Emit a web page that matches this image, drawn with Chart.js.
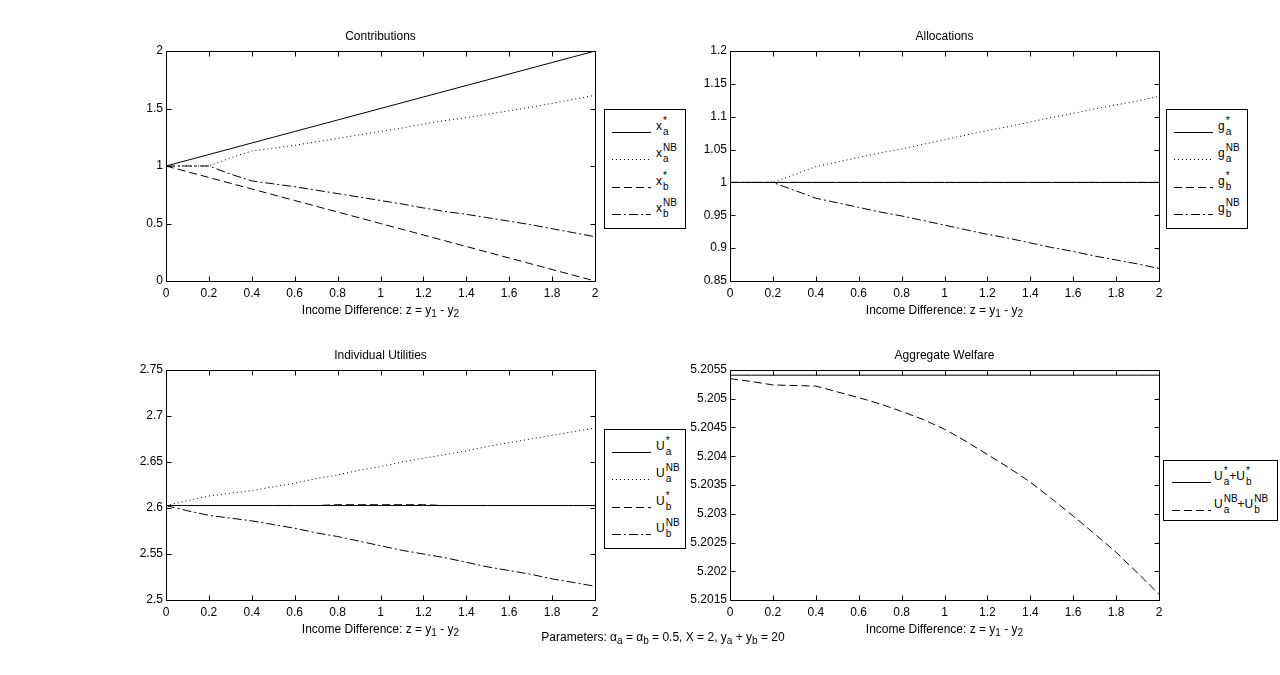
<!DOCTYPE html>
<html>
<head>
<meta charset="utf-8">
<script src="https://cdn.jsdelivr.net/npm/chart.js@4.4.1/dist/chart.umd.min.js"></script>
<style>
  html, body { margin:0; padding:0; background:#fff; }
  body { width:1280px; height:675px; position:relative; overflow:hidden; font-family:"Liberation Sans", Arial, sans-serif; font-size:12px; color:#000; }
  canvas { position:absolute; }
  .ttl, .xt { position:absolute; text-align:center; line-height:14px; white-space:nowrap; }
  .xt sub, .par sub { font-size:10px; line-height:0; vertical-align:-3px; }
  .par { position:absolute; line-height:14px; white-space:nowrap; text-align:center; }
  .leg { position:absolute; border:1px solid #000; background:#fff; box-sizing:border-box; }
  .row { position:absolute; left:0; height:0; }
  .lab { position:absolute; top:-8px; white-space:nowrap; line-height:14px; display:flex; align-items:center; }
  .st { display:inline-flex; flex-direction:column; font-size:10px; line-height:9px; margin-left:1px; }
  .st .up { position:relative; top:-1px; }
  .st .dn { position:relative; top:1px; }
</style>
</head>
<body>
<script>
// ---------- data ----------
const z = [0,0.1,0.2,0.3,0.4,0.5,0.6,0.7,0.8,0.9,1.0,1.1,1.2,1.3,1.4,1.5,1.6,1.7,1.8,1.9,2.0];
const xTicks = [0,0.2,0.4,0.6,0.8,1,1.2,1.4,1.6,1.8,2];
const xTickLabels = ['0','0.2','0.4','0.6','0.8','1','1.2','1.4','1.6','1.8','2'];

// Contributions
const xaStar = [1,1.05,1.1,1.15,1.2,1.25,1.3,1.35,1.4,1.45,1.5,1.55,1.6,1.65,1.7,1.75,1.8,1.85,1.9,1.95,2];
const xaNB   = [1,1,1,1.07,1.13,1.155,1.18,1.21,1.24,1.27,1.3,1.33,1.365,1.395,1.42,1.45,1.48,1.51,1.545,1.58,1.615];
const xbStar = [1,0.95,0.9,0.85,0.8,0.75,0.7,0.65,0.6,0.55,0.5,0.45,0.4,0.35,0.3,0.25,0.2,0.15,0.1,0.05,0];
const xbNB   = [1,1,1,0.93,0.87,0.845,0.82,0.79,0.76,0.73,0.7,0.67,0.635,0.605,0.58,0.55,0.52,0.49,0.455,0.42,0.385];
const y1Ticks = [0,0.5,1,1.5,2];
const y1TickLabels = ['0','0.5','1','1.5','2'];

// Allocations
const gaStar = [1,1,1,1,1,1,1,1,1,1,1,1,1,1,1,1,1,1,1,1,1];
const gaNB   = [1,1,1,1.012,1.024,1.031,1.038,1.045,1.051,1.058,1.065,1.072,1.079,1.085,1.092,1.099,1.105,1.112,1.118,1.124,1.131];
const gbStar = [1,1,1,1,1,1,1,1,1,1,1,1,1,1,1,1,1,1,1,1,1];
const gbNB   = [1,1,1,0.988,0.976,0.969,0.962,0.955,0.949,0.942,0.935,0.928,0.921,0.915,0.908,0.901,0.895,0.888,0.882,0.876,0.869];
const y2Ticks = [0.85,0.9,0.95,1,1.05,1.1,1.15,1.2];
const y2TickLabels = ['0.85','0.9','0.95','1','1.05','1.1','1.15','1.2'];

// Individual Utilities
const UaStar = [2.6027,2.6027,2.6027,2.6027,2.6027,2.6027,2.6027,2.6027,2.6027,2.6027,2.6027,2.6027,2.6027,2.6027,2.6027,2.6027,2.6027,2.6027,2.6027,2.6027,2.6027];
const UaNB   = [2.6027,2.608,2.613,2.616,2.619,2.623,2.627,2.632,2.636,2.641,2.645,2.65,2.654,2.658,2.662,2.667,2.671,2.675,2.679,2.683,2.687];
const UbStar = [2.6027,2.6027,2.6027,2.6027,2.6027,2.6027,2.6027,2.6027,2.6036,2.6036,2.6036,2.6036,2.6036,2.6027,2.6027,2.6027,2.6027,2.6027,2.6027,2.6027,2.6027];
const UbNB   = [2.6027,2.597,2.592,2.589,2.586,2.582,2.578,2.573,2.569,2.564,2.559,2.554,2.55,2.546,2.541,2.536,2.532,2.528,2.523,2.519,2.515];
const y3Ticks = [2.5,2.55,2.6,2.65,2.7,2.75];
const y3TickLabels = ['2.5','2.55','2.6','2.65','2.7','2.75'];

// Aggregate Welfare
const WStar = [5.20541,5.20541,5.20541,5.20541,5.20541,5.20541,5.20541,5.20541,5.20541,5.20541,5.20541,5.20541,5.20541,5.20541,5.20541,5.20541,5.20541,5.20541,5.20541,5.20541,5.20541];
const WNB   = [5.20535,5.2053,5.20524,5.20523,5.20522,5.20512,5.20502,5.20491,5.20478,5.20464,5.20447,5.20426,5.20403,5.2038,5.20355,5.20326,5.20296,5.20265,5.20233,5.20197,5.2016];
const y4Ticks = [5.2015,5.202,5.2025,5.203,5.2035,5.204,5.2045,5.205,5.2055];
const y4TickLabels = ['5.2015','5.202','5.2025','5.203','5.2035','5.204','5.2045','5.205','5.2055'];

// ---------- styles ----------
const STY = {
  solid:   [],
  dotted:  [1,3],
  dashed:  [8,4],
  dashdot: [9,3,2,3]
};

Chart.defaults.font.family = '"Liberation Sans", Arial, sans-serif';
Chart.defaults.font.size = 12;
Chart.defaults.color = '#000';

const boxPlugin = {
  id: 'matlabBox',
  afterDatasetsDraw(chart) {
    const ctx = chart.ctx, a = chart.chartArea;
    const l = Math.round(a.left)+0.5, r = Math.round(a.right)+0.5, t = Math.round(a.top)+0.5, b = Math.round(a.bottom)+0.5;
    ctx.save();
    ctx.strokeStyle = '#000'; ctx.lineWidth = 1; ctx.setLineDash([]);
    ctx.beginPath();
    ctx.rect(l, t, r-l, b-t);
    const xs = chart.scales.x, ys = chart.scales.y, tl = 5;
    xs.ticks.forEach(tk => {
      const px = Math.round(xs.getPixelForValue(tk.value))+0.5;
      ctx.moveTo(px, b); ctx.lineTo(px, b-tl);
      ctx.moveTo(px, t); ctx.lineTo(px, t+tl);
    });
    ys.ticks.forEach(tk => {
      const py = Math.round(ys.getPixelForValue(tk.value))+0.5;
      ctx.moveTo(l, py); ctx.lineTo(l+tl, py);
      ctx.moveTo(r, py); ctx.lineTo(r-tl, py);
    });
    ctx.stroke();
    ctx.restore();
  }
};

const PADL = 70, PADT = 10, PADR = 21, PADB = 30;

function makeChart(rect, series, yMin, yMax, yT, yTL) {
  const cv = document.createElement('canvas');
  const w = rect.r - rect.l + PADL + PADR, h = rect.b - rect.t + PADT + PADB;
  cv.width = w; cv.height = h;
  cv.style.left = (rect.l - PADL) + 'px';
  cv.style.top = (rect.t - PADT) + 'px';
  cv.style.width = w + 'px'; cv.style.height = h + 'px';
  document.body.appendChild(cv);
  new Chart(cv, {
    type: 'line',
    data: {
      datasets: series.map(s => ({
        label: s.label,
        data: z.map((v, i) => ({x: v, y: s.data[i]})),
        borderColor: '#000',
        borderWidth: 1,
        borderDash: STY[s.style],
        pointRadius: 0,
        fill: false,
        tension: 0
      }))
    },
    options: {
      responsive: false,
      animation: false,
      devicePixelRatio: 1,
      layout: { padding: { left: 0, top: PADT, right: PADR, bottom: 0 } },
      plugins: { legend: { display: false }, title: { display: false }, tooltip: { enabled: false } },
      scales: {
        x: {
          type: 'linear', min: 0, max: 2,
          grid: { display: false, drawTicks: false },
          border: { display: false },
          afterBuildTicks: s => { s.ticks = xTicks.map(v => ({ value: v })); },
          ticks: { autoSkip: false, maxRotation: 0, padding: 5, callback: (v, i) => xTickLabels[i] },
          afterFit: s => { s.height = PADB; s.paddingLeft = 0; s.paddingRight = 0; }
        },
        y: {
          type: 'linear', min: yMin, max: yMax,
          grid: { display: false, drawTicks: false },
          border: { display: false },
          afterBuildTicks: s => { s.ticks = yT.map(v => ({ value: v })); },
          ticks: { autoSkip: false, padding: 3, callback: (v, i) => yTL[i] },
          afterFit: s => { s.width = PADL; s.paddingTop = 0; s.paddingBottom = 0; }
        }
      }
    },
    plugins: [boxPlugin]
  });
}

const R1 = {l:166, t:51, r:595, b:281};
const R2 = {l:730, t:51, r:1159, b:281};
const R3 = {l:166, t:370, r:595, b:600};
const R4 = {l:730, t:370, r:1159, b:600};

makeChart(R1, [
  {label:'xa*', data:xaStar, style:'solid'},
  {label:'xaNB', data:xaNB, style:'dotted'},
  {label:'xb*', data:xbStar, style:'dashed'},
  {label:'xbNB', data:xbNB, style:'dashdot'}
], 0, 2, y1Ticks, y1TickLabels);

makeChart(R2, [
  {label:'ga*', data:gaStar, style:'solid'},
  {label:'gaNB', data:gaNB, style:'dotted'},
  {label:'gb*', data:gbStar, style:'dashed'},
  {label:'gbNB', data:gbNB, style:'dashdot'}
], 0.85, 1.2, y2Ticks, y2TickLabels);

makeChart(R3, [
  {label:'Ua*', data:UaStar, style:'solid'},
  {label:'UaNB', data:UaNB, style:'dotted'},
  {label:'Ub*', data:UbStar, style:'dashed'},
  {label:'UbNB', data:UbNB, style:'dashdot'}
], 2.5, 2.75, y3Ticks, y3TickLabels);

makeChart(R4, [
  {label:'Ua*+Ub*', data:WStar, style:'solid'},
  {label:'UaNB+UbNB', data:WNB, style:'dashed'}
], 5.2015, 5.2055, y4Ticks, y4TickLabels);

// ---------- HTML text ----------
function addDiv(cls, html, css) {
  const d = document.createElement('div');
  d.className = cls; d.innerHTML = html;
  Object.assign(d.style, css);
  document.body.appendChild(d);
  return d;
}
const titles = [[R1,'Contributions'],[R2,'Allocations'],[R3,'Individual Utilities'],[R4,'Aggregate Welfare']];
titles.forEach(([R, t]) => addDiv('ttl', t, {left:R.l+'px', width:(R.r-R.l)+'px', top:(R.t-22)+'px'}));
const xTitle = 'Income Difference: z = y<sub>1</sub> - y<sub>2</sub>';
[R1,R2,R3,R4].forEach(R => addDiv('xt', xTitle, {left:R.l+'px', width:(R.r-R.l)+'px', top:(R.b+22)+'px'}));
addDiv('par', 'Parameters: &alpha;<sub>a</sub> = &alpha;<sub>b</sub> = 0.5, X = 2, y<sub>a</sub> + y<sub>b</sub> = 20', {left:'463px', width:'400px', top:'630px'});

function sym(base, sup, sub) {
  return '<span>'+base+'</span><span class="st"><span class="up">'+sup+'</span><span class="dn">'+sub+'</span></span>';
}
function sample(style) {
  const d = STY[style].join(',');
  return '<svg width="39" height="4"><line x1="0" y1="2.5" x2="39" y2="2.5" stroke="#000" stroke-width="1" ' + (d ? 'stroke-dasharray="'+d+'"' : '') + '/></svg>';
}
function legend(box, rows, rowTop, rowGap, lineX, labX) {
  const L = addDiv('leg', '', {left:box.l+'px', top:box.t+'px', width:(box.r-box.l)+'px', height:(box.b-box.t)+'px'});
  rows.forEach((rw, i) => {
    const r = document.createElement('div');
    r.className = 'row';
    r.style.top = (rowTop + i*rowGap) + 'px';
    r.innerHTML = '<div style="position:absolute;left:'+lineX+'px;top:-2px">'+sample(rw.style)+'</div>' +
                  '<div class="lab" style="left:'+labX+'px">'+rw.html+'</div>';
    L.appendChild(r);
  });
}
const legRows = (b) => [
  {style:'solid', html:sym(b,'*','a')},
  {style:'dotted', html:sym(b,'NB','a')},
  {style:'dashed', html:sym(b,'*','b')},
  {style:'dashdot', html:sym(b,'NB','b')}
];
legend({l:604,t:109,r:686,b:229}, legRows('x'), 15, 27.3, 7, 51);
legend({l:1166,t:109,r:1248,b:229}, legRows('g'), 15, 27.3, 7, 51);
legend({l:604,t:429,r:686,b:549}, legRows('U'), 15, 27.3, 7, 51);
legend({l:1163,t:460,r:1278,b:521}, [
  {style:'solid', html:sym('U','*','a')+'<span>+</span>'+sym('U','*','b')},
  {style:'dashed', html:sym('U','NB','a')+'<span>+</span>'+sym('U','NB','b')}
], 14, 28, 8, 50);
</script>
</body>
</html>
